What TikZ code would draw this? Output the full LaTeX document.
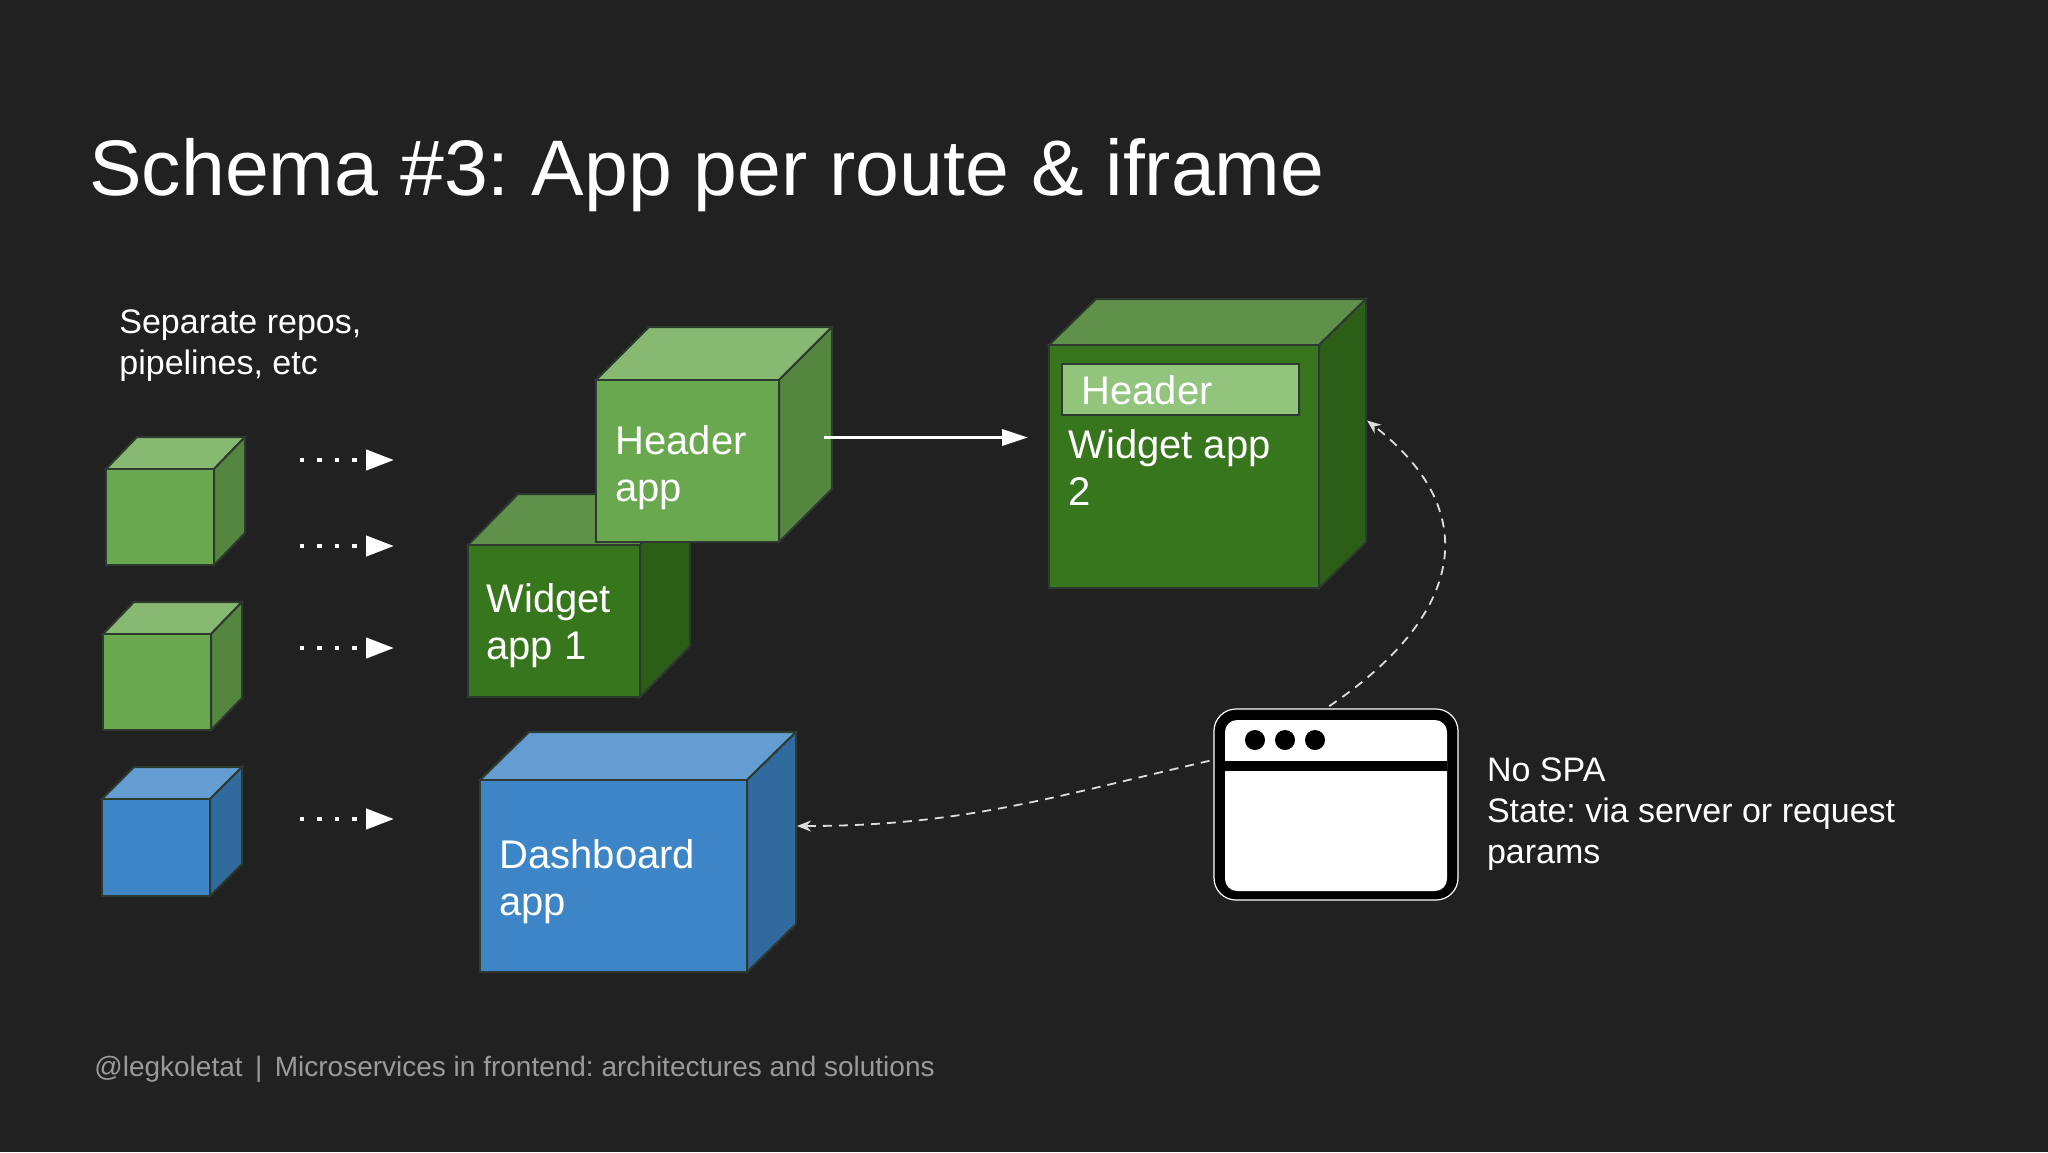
\documentclass[tikz,border=0pt]{standalone}
\usepackage{fontspec}
\usepackage{xcolor}
\usetikzlibrary{arrows.meta,positioning,calc,fit}
\setmainfont{Liberation Sans}
\frenchspacing
\definecolor{slate}{HTML}{212122}
\definecolor{edge}{HTML}{2E3A30}
\definecolor{leaf}{HTML}{6AA84F}
\definecolor{pine}{HTML}{38761D}
\definecolor{ocean}{HTML}{3D85C6}
\definecolor{bar}{HTML}{93C47D}
\definecolor{haze}{HTML}{9A9A9A}
\definecolor{trail}{HTML}{DDDDDD}

\tikzset{
  face/.style={draw=edge,line width=1pt,inner sep=0pt,outer sep=0pt},
  cubetext/.style={text=white,align=left,anchor=west,inner sep=0pt,font=\fontsize{20}{23.5}\selectfont},
  note/.style={text=white,align=left,anchor=west,inner sep=0pt,font=\fontsize{17}{20.5}\selectfont},
  dotflow/.style={white,line width=2.2pt,dash pattern=on 2.2pt off 6.5pt,-{Triangle[length=14pt,width=10pt]}},
  mainflow/.style={white,line width=1.8pt,-{Triangle[length=13pt,width=8pt]}},
  reqflow/.style={trail,line width=.9pt,dash pattern=on 4.5pt off 3.5pt,shorten <=2pt,-{Stealth[length=7pt,width=5.5pt]}}
}

% name, front corners, depth, colour
\newcommand{\appcube}[5]{
  \node[face,fit={(#2)(#3)}] (#1) {};
  \draw[face,fill=#5!80!white] (#1.north west) -- ($(#1.north west)+(#4)$) -- ($(#1.north east)+(#4)$) -- (#1.north east) -- cycle;
  \draw[face,fill=#5!80!black] (#1.north east) -- ($(#1.north east)+(#4)$) -- ($(#1.south east)+(#4)$) -- (#1.south east) -- cycle;
  \node[face,fill=#5,fit={(#2)(#3)}] {};
}

\begin{document}
\begin{tikzpicture}[x=.5pt,y=-.5pt]
  \fill[slate] (0,0) rectangle (2048,1152);
  \useasboundingbox (0,0) rectangle (2048,1152);

  \node[anchor=base west,inner sep=0pt,text=white,font=\fontsize{39.4}{42}\selectfont] (title) at (89,195) {Schema \#3: App per route \& iframe};
  \node[note] (repos) at (119,345.5) {Separate repos,\\pipelines, etc};

  % left column
  \appcube{small1}{106,469}{214,565}{31,-32}{leaf}
  \appcube{small2}{103,634}{211,730}{31,-32}{leaf}
  \appcube{small3}{102,799}{210,896}{32,-32}{ocean}
  \foreach \y/\n in {460/a,546/b,648/c,819/d}{
    \coordinate (from\n) at (300,\y);
    \coordinate (to\n) at (394,\y);
    \draw[dotflow] (from\n) -- (to\n);
  }

  % apps
  \appcube{wgt1}{468,545}{640,697}{50,-51}{pine}
  \appcube{hdr}{596,380}{779,542}{53,-53}{leaf}
  \appcube{dash}{480,780}{747,972}{49,-48}{ocean}
  \appcube{wgt2}{1049,345}{1319,588}{47,-46}{pine}
  \node[face,fill=bar,fit={(1062,364)(1299,415)}] (bar) {};

  \node[cubetext] (hdrtext) at (615,468) {Header\\app};
  \node[cubetext] (wgt1text) at (486,626) {Widget\\app 1};
  \node[cubetext] (dashtext) at (499,882) {Dashboard\\app};
  \node[cubetext] (bartext) at (1081,390) {Header};
  \node[cubetext] (wgt2text) at (1068,467) {Widget app\\2};

  \draw[mainflow] ($(hdr.east)+(45,-23.5)$) -- ($(wgt2.west)+(-21,-29)$);

  % browser
  \node[draw=white,fill=black,line width=.6pt,rounded corners=11pt,inner sep=0pt,fit={(1214,709)(1458,900)}] (browser) {};
  \node[fill=white,rounded corners=6pt,inner sep=0pt,fit={(1225,720)(1447,891)}] (pane) {};
  \node[fill=black,inner sep=0pt,fit={(1225,761)(1447,771)}] (rule) {};
  \foreach \x/\n in {1255/a,1285/b,1315/c}
    \node[circle,fill=black,minimum size=10pt,inner sep=0pt] (dot\n) at (\x,740) {};
  \node[note,right=14pt of browser.east,yshift=-5pt] (state) {No SPA\\State: via server or request\\params};

  \draw[reqflow] (browser.96) to[out=34,in=-38,looseness=1.38] ($(wgt2.west)+(318,-46)$);
  \draw[reqflow] (browser.160) to[out=193,in=0] ($(dash.east)+(50,-50)$);

  \node[anchor=base west,inner sep=0pt,text=haze,font=\fontsize{14}{18}\selectfont] (foot) at (94,1076) {@legkoletat\ \,|\ \,Microservices in frontend: architectures and solutions};
\end{tikzpicture}
\end{document}
